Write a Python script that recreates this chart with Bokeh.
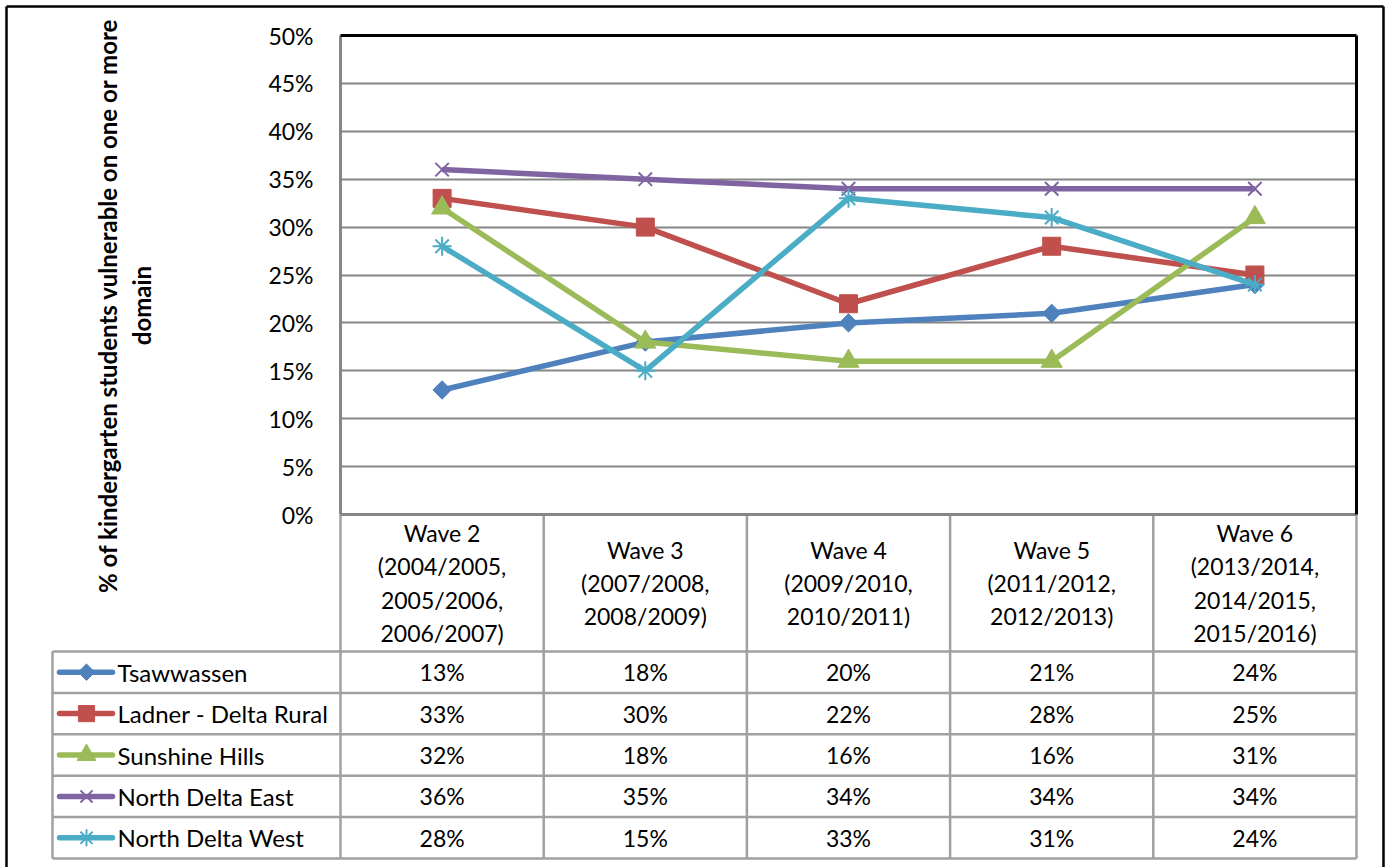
import numpy as np
from bokeh.plotting import figure
from bokeh.models import Range1d, FixedTicker, PrintfTickFormatter, ColumnDataSource
from bokeh.embed import file_html
from bokeh.resources import INLINE
from bokeh.core.properties import value

# ---------------- data ----------------
waves = [
    "Wave 2\n(2004/2005,\n2005/2006,\n2006/2007)",
    "Wave 3\n(2007/2008,\n2008/2009)",
    "Wave 4\n(2009/2010,\n2010/2011)",
    "Wave 5\n(2011/2012,\n2012/2013)",
    "Wave 6\n(2013/2014,\n2014/2015,\n2015/2016)",
]
series_names = ["Tsawwassen", "Ladner - Delta Rural", "Sunshine Hills",
                "North Delta East", "North Delta West"]
tsawwassen = [13, 18, 20, 21, 24]
ladner_delta_rural = [33, 30, 22, 28, 25]
sunshine_hills = [32, 18, 16, 16, 31]
north_delta_east = [36, 35, 34, 34, 34]
north_delta_west = [28, 15, 33, 31, 24]
y_ticks = [0, 5, 10, 15, 20, 25, 30, 35, 40, 45, 50]
y_title = "% of kindergarten students vulnerable on one or more\ndomain"

series_values = [tsawwassen, ladner_delta_rural, sunshine_hills,
                 north_delta_east, north_delta_west]

# ---------------- styles / geometry (canvas pixels) ----------------
colors = ["#4F81BD", "#C0504D", "#9BBB59", "#8064A2", "#4BACC6"]
markers = [("square", 13, np.pi / 4, 1), ("square", 18, 0, 1), ("triangle", 21, 0, 1),
           ("x", 19, 0, 2), ("asterisk", 19, 0, 2)]
FONT = "Lato"
GRID_C = "#868686"
TBL_C = "#a0a0a0"

W, H = 1385, 867
CANVAS_X0, CANVAS_Y0 = 0, 0
PLOT_L, PLOT_R = 340, 1356  # plot area
PLOT_T, PLOT_B = 35, 514
TBL_L = 52                  # left edge of the data table
HDR_B = 651                 # bottom of header row
TBL_B = 858                 # bottom of table
BORDER_L, BORDER_T, BORDER_R = 6, 6, 1383
n = len(waves)
col_px = (PLOT_R - PLOT_L) / n
px_per_pct = (PLOT_B - PLOT_T) / 50.0
row_px = (TBL_B - HDR_B) / len(series_names)

def px_x(cx):
    return -0.5 + (cx - PLOT_L) / col_px

def px_y(cy):
    return 50 - (cy - PLOT_T) / px_per_pct

p = figure(width=W, height=H,
           x_range=Range1d(px_x(CANVAS_X0), px_x(CANVAS_X0 + W)),
           y_range=Range1d(px_y(CANVAS_Y0 + H), px_y(CANVAS_Y0)),
           output_backend="svg", toolbar_location=None, x_axis_type=None,
           min_border_left=0, min_border_right=0, min_border_top=0, min_border_bottom=0)
p.outline_line_color = None
p.background_fill_color = "white"
p.border_fill_color = "white"

# horizontal gridlines of the plot area
p.ygrid.ticker = FixedTicker(ticks=y_ticks[1:-1])
p.ygrid.grid_line_color = GRID_C
p.ygrid.grid_line_width = 2
grid_ok = True
try:
    p.ygrid.cross_bounds = (-0.5, n - 0.5)
except Exception:
    grid_ok = False

# y axis: tick labels pulled in next to the plot area
ya = p.yaxis[0]
ya.ticker = FixedTicker(ticks=y_ticks)
ya.formatter = PrintfTickFormatter(format="%d%%")
ya.major_tick_out = 0
ya.major_tick_in = 0
ya.minor_tick_line_color = None
ya.axis_line_color = None
ya.major_label_text_font = FONT
ya.major_label_text_font_size = "23px"
ya.major_label_text_color = "black"
ya.major_label_standoff = -(313 - CANVAS_X0)

if not grid_ok:
    p.quad(left=[px_x(TBL_L)], right=[-0.5], bottom=[0], top=[50],
           fill_color="white", line_color=None)

# y title
p.text(x=[px_x(124)], y=[px_y(305)], text=[y_title], angle=np.pi / 2,
       text_align="center", text_baseline="middle", text_font=value(FONT),
       text_font_style="bold", text_font_size="24px", text_color="black",
       text_line_height=1.15)

# ---------------- data table frame ----------------
row_lines_y = [px_y(HDR_B + r * row_px) for r in range(len(series_names) + 1)]
p.segment(x0=[px_x(TBL_L)] * len(row_lines_y), y0=row_lines_y,
          x1=[n - 0.5] * len(row_lines_y), y1=row_lines_y,
          line_color=TBL_C, line_width=2.5)
vx = [k - 0.5 for k in range(n + 1)]
p.segment(x0=vx, y0=[0] * len(vx), x1=vx, y1=[px_y(TBL_B)] * len(vx),
          line_color=TBL_C, line_width=2.5)
p.segment(x0=[px_x(TBL_L)], y0=[px_y(HDR_B)], x1=[px_x(TBL_L)], y1=[px_y(TBL_B)],
          line_color=TBL_C, line_width=2.5)

# plot area border
p.segment(x0=[-0.5, -0.5], y0=[0, 0], x1=[-0.5, n - 0.5], y1=[50, 0],
          line_color=GRID_C, line_width=3)
p.segment(x0=[-0.5, n - 0.5], y0=[50, 50], x1=[n - 0.5, n - 0.5], y1=[50, 0],
          line_color="black", line_width=3)

# outer chart border
bx0, bx1 = px_x(BORDER_L), px_x(BORDER_R)
by0, by1 = px_y(CANVAS_Y0 + H + 10), px_y(BORDER_T)
p.segment(x0=[bx0, bx0, bx1], y0=[by0, by1, by1], x1=[bx0, bx1, bx1], y1=[by1, by1, by0],
          line_color="black", line_width=2.5)

# header texts
p.text(x=list(range(n)), y=[px_y((PLOT_B + HDR_B) / 2.0)] * n, text=waves,
       text_align="center", text_baseline="middle", text_font=value(FONT),
       text_font_size="23px", text_color="black", text_line_height=1.18)

# table values
cell_x, cell_y, cell_t = [], [], []
for r, vals in enumerate(series_values):
    for i, v in enumerate(vals):
        cell_x.append(i)
        cell_y.append(px_y(HDR_B + (r + 0.5) * row_px))
        cell_t.append(f"{v}%")
p.text(x=cell_x, y=cell_y, text=cell_t, text_align="center", text_baseline="middle",
       text_font=value(FONT), text_font_size="23px", text_color="black")

rows_y = [px_y(HDR_B + (r + 0.5) * row_px) for r in range(len(series_names))]
p.text(x=[px_x(117)] * len(series_names), y=rows_y, text=series_names,
       text_align="left", text_baseline="middle", text_font=value(FONT),
       text_font_size="24px", text_color="black")

# legend keys in the table
for ry, c, (m, s, a, lw) in zip(rows_y, colors, markers):
    p.segment(x0=[px_x(59)], y0=[ry], x1=[px_x(112)], y1=[ry],
              line_color=c, line_width=5.5, line_cap="round")
    p.scatter(x=[px_x(86)], y=[ry], marker=m, size=s * 0.9, angle=a,
              fill_color=c, line_color=c, line_width=lw)

# ---------------- series ----------------
xs = list(range(n))
for vals, c, (m, s, a, lw) in zip(series_values, colors, markers):
    src = ColumnDataSource(dict(x=xs, y=vals))
    p.line("x", "y", source=src, line_color=c, line_width=5.5)
    p.scatter("x", "y", source=src, marker=m, size=s, angle=a, fill_color=c,
              line_color=c, line_width=lw)

open("out.html", "w").write(file_html(p, INLINE))
